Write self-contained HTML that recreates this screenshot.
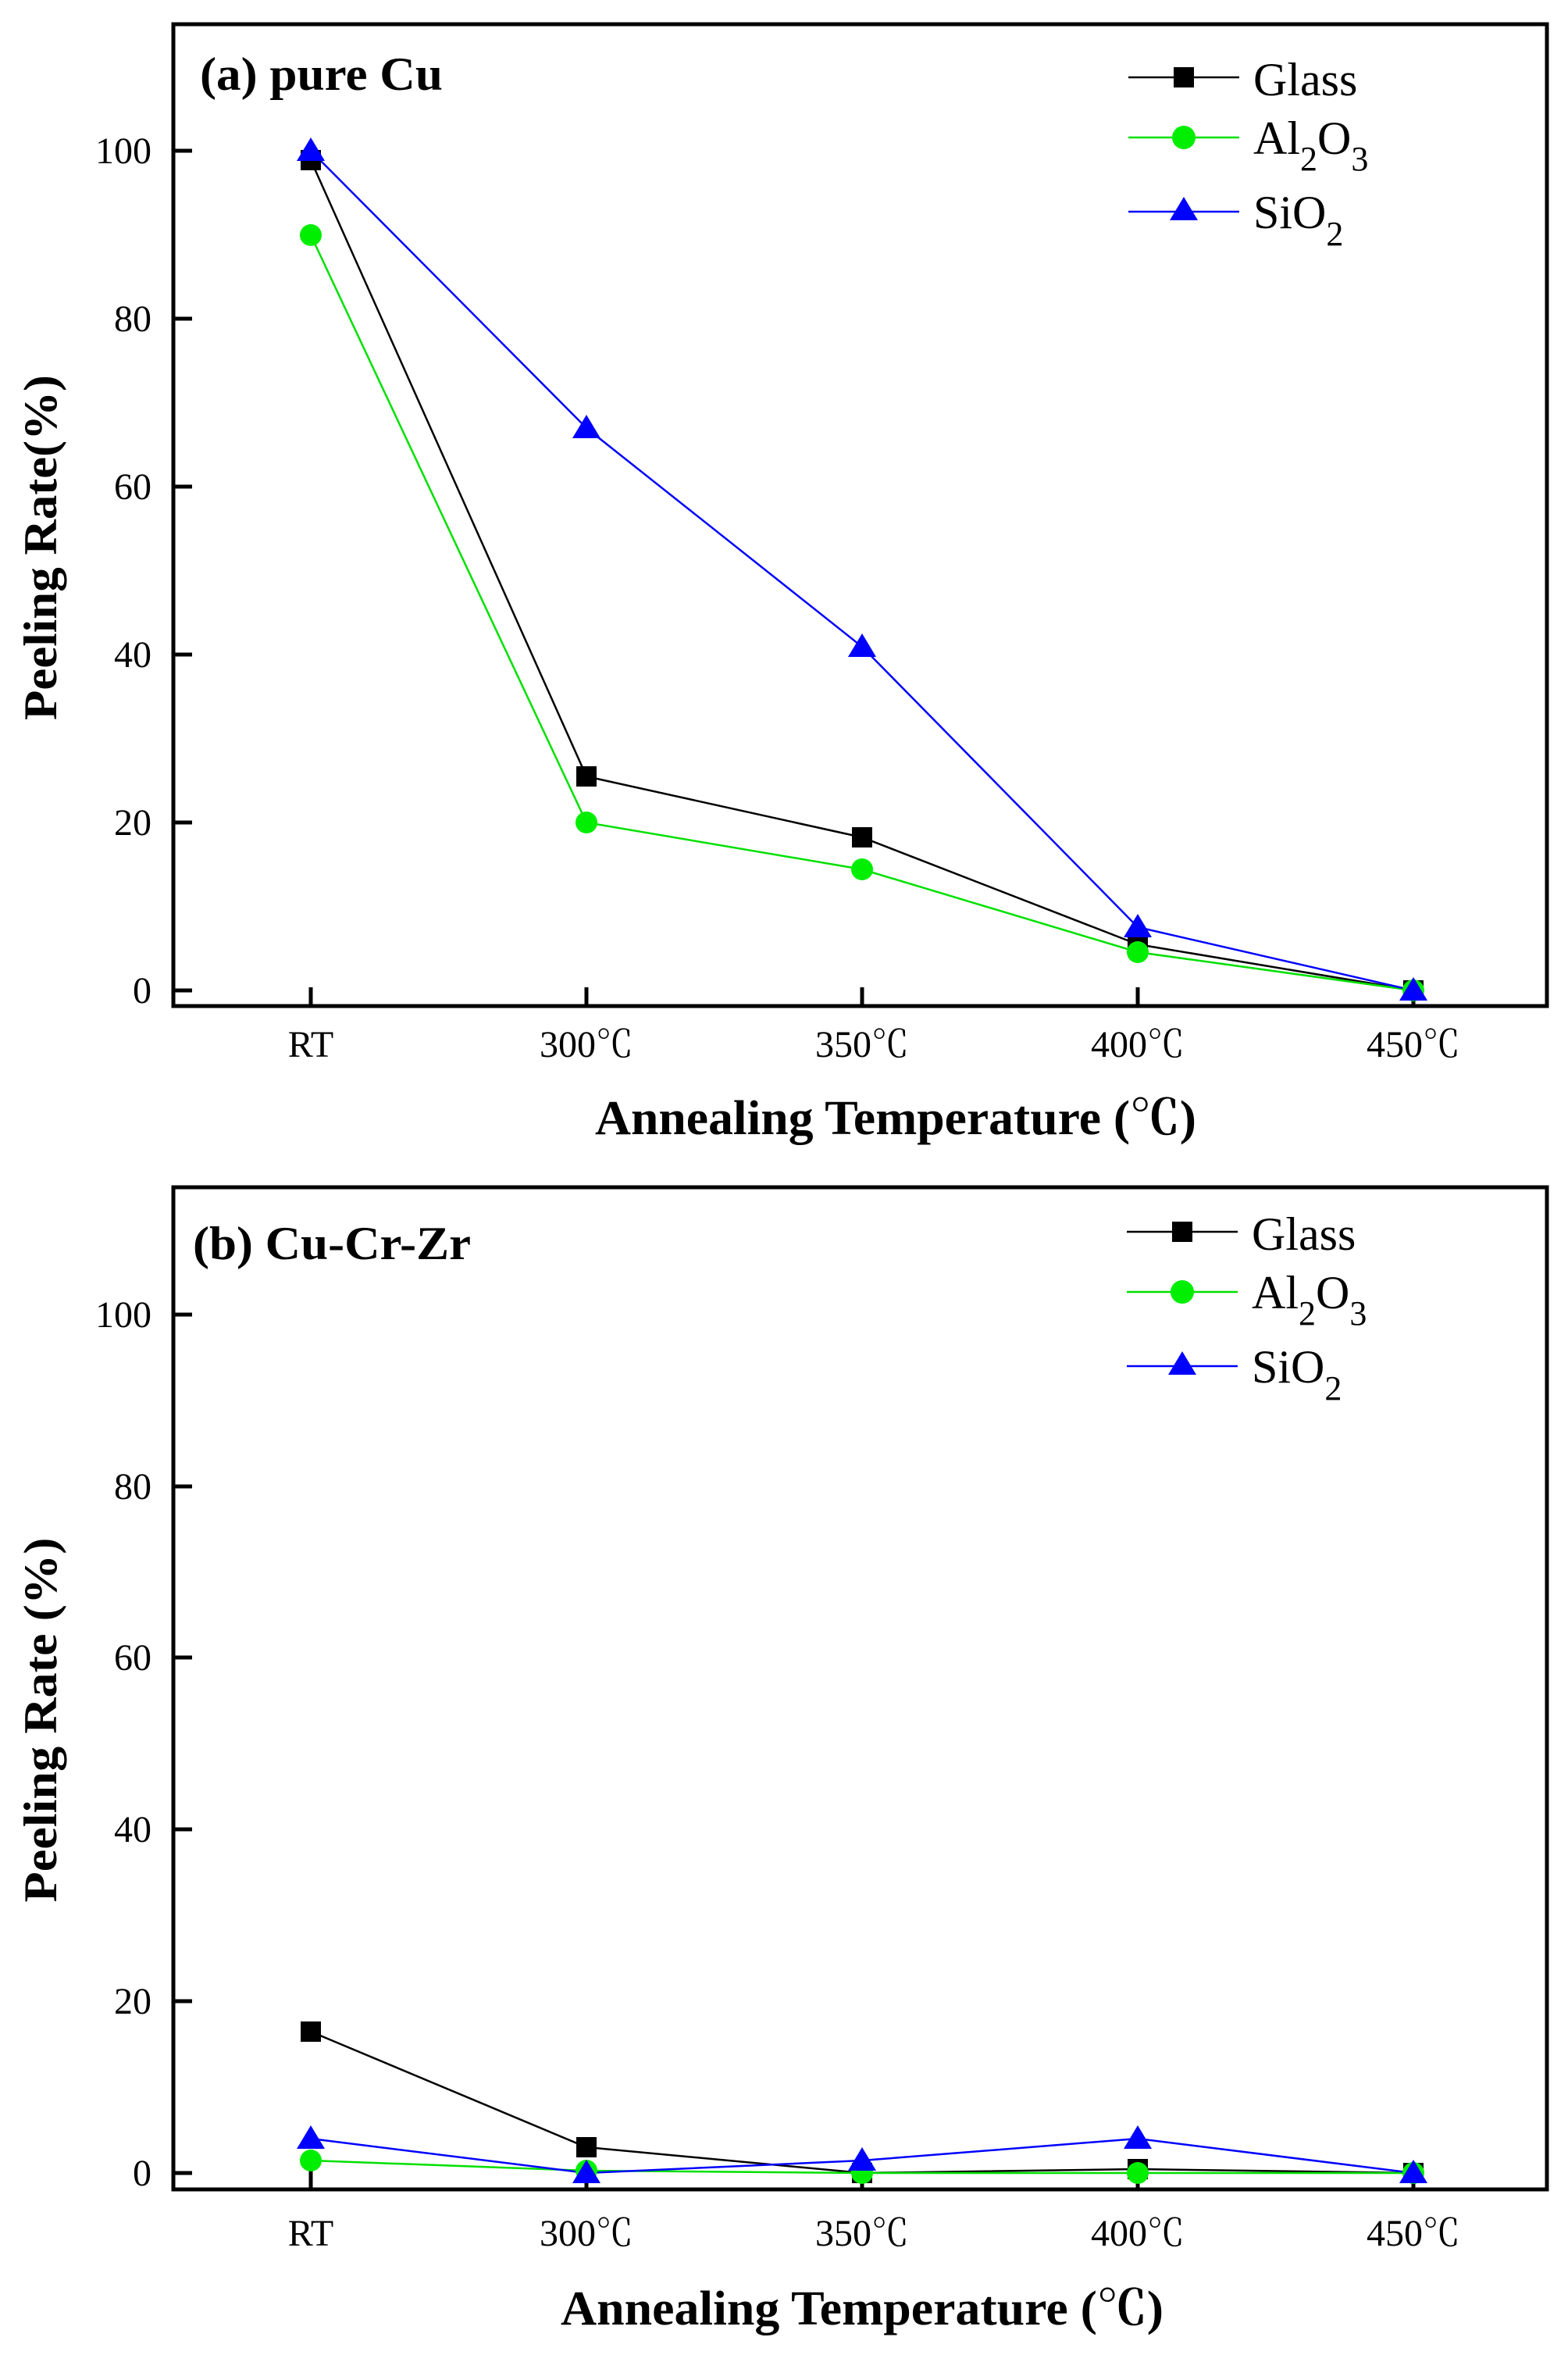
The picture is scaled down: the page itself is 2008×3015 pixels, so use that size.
<!DOCTYPE html>
<html><head><meta charset="utf-8"><style>html,body{margin:0;padding:0;background:#fff}svg{display:block}</style></head>
<body>
<svg width="2008" height="3015" viewBox="0 0 2008 3015" xmlns="http://www.w3.org/2000/svg" font-family="'Liberation Serif', 'Noto Serif CJK SC', serif">
<rect width="2008" height="3015" fill="#fff"/>
<!-- Panel A -->
<g>
<rect x="222" y="31" width="1759" height="1257" fill="none" stroke="#000" stroke-width="5"/>
<g stroke="#000" stroke-width="5">
<line x1="222" y1="1268" x2="246" y2="1268"/><line x1="222" y1="1053" x2="246" y2="1053"/><line x1="222" y1="838" x2="246" y2="838"/><line x1="222" y1="623" x2="246" y2="623"/><line x1="222" y1="408" x2="246" y2="408"/><line x1="222" y1="193" x2="246" y2="193"/>
<line x1="398" y1="1288" x2="398" y2="1264"/><line x1="751" y1="1288" x2="751" y2="1264"/><line x1="1104" y1="1288" x2="1104" y2="1264"/><line x1="1457" y1="1288" x2="1457" y2="1264"/><line x1="1810" y1="1288" x2="1810" y2="1264"/>
</g>
<g font-size="48" text-anchor="end">
<text x="194" y="1284">0</text><text x="194" y="1069">20</text><text x="194" y="854">40</text><text x="194" y="639">60</text><text x="194" y="424">80</text><text x="194" y="209">100</text>
</g>
<g font-size="48" text-anchor="middle">
<text x="398" y="1353">RT</text><text x="751" y="1353">300℃</text><text x="1104" y="1353">350℃</text><text x="1457" y="1353">400℃</text><text x="1810" y="1353">450℃</text>
</g>
<text x="762" y="1452" font-size="62" font-weight="bold" textLength="770" lengthAdjust="spacingAndGlyphs">Annealing Temperature (℃)</text>
<text transform="translate(72,701) rotate(-90)" font-size="60" font-weight="bold" text-anchor="middle" textLength="442" lengthAdjust="spacingAndGlyphs">Peeling Rate(%)</text>
<text x="256" y="115" font-size="60" font-weight="bold" textLength="311" lengthAdjust="spacingAndGlyphs">(a) pure Cu</text>
<polyline fill="none" stroke="#000" stroke-width="2.5" points="398,205 751,994 1104,1072 1457,1209 1810,1268"/>
<polyline fill="none" stroke="#00e000" stroke-width="2.5" points="398,301 751,1053 1104,1113 1457,1219 1810,1268"/>
<polyline fill="none" stroke="#0000ff" stroke-width="2.5" points="398,193 751,548 1104,828 1457,1187 1810,1268"/>
<g fill="#000"><rect x="385" y="192" width="26" height="26"/><rect x="738" y="981" width="26" height="26"/><rect x="1091" y="1059" width="26" height="26"/><rect x="1444" y="1196" width="26" height="26"/><rect x="1797" y="1255" width="26" height="26"/></g>
<g fill="#00ee00"><circle cx="398" cy="301" r="14"/><circle cx="751" cy="1053" r="14"/><circle cx="1104" cy="1113" r="14"/><circle cx="1457" cy="1219" r="14"/><circle cx="1810" cy="1268" r="14"/></g>
<g fill="#0000ff"><polygon points="398,176 380,206 416,206"/><polygon points="751,531 733,561 769,561"/><polygon points="1104,811 1086,841 1122,841"/><polygon points="1457,1170 1439,1200 1475,1200"/><polygon points="1810,1251 1792,1281 1828,1281"/></g>
<line x1="1445" y1="99" x2="1587" y2="99" stroke="#000" stroke-width="2.5"/><rect x="1503" y="86" width="26" height="26" fill="#000"/>
<line x1="1445" y1="176" x2="1587" y2="176" stroke="#00e000" stroke-width="2.5"/><circle cx="1516" cy="176" r="15" fill="#00ee00"/>
<line x1="1445" y1="271" x2="1587" y2="271" stroke="#0000ff" stroke-width="2.5"/><polygon points="1516,252 1498,282 1534,282" fill="#0000ff"/>
<g font-size="60"><text x="1605" y="122">Glass</text>
<text x="1605" y="197">Al<tspan font-size="44" dy="21">2</tspan><tspan dy="-21">O</tspan><tspan font-size="44" dy="21">3</tspan></text>
<text x="1605" y="292">SiO<tspan font-size="44" dy="22">2</tspan></text></g>
</g>
<!-- Panel B -->
<g>
<rect x="222" y="1520" width="1759" height="1283" fill="none" stroke="#000" stroke-width="5"/>
<g stroke="#000" stroke-width="5">
<line x1="222" y1="2782" x2="246" y2="2782"/><line x1="222" y1="2562" x2="246" y2="2562"/><line x1="222" y1="2342" x2="246" y2="2342"/><line x1="222" y1="2122" x2="246" y2="2122"/><line x1="222" y1="1903" x2="246" y2="1903"/><line x1="222" y1="1683" x2="246" y2="1683"/>
<line x1="398" y1="2803" x2="398" y2="2779"/><line x1="751" y1="2803" x2="751" y2="2779"/><line x1="1104" y1="2803" x2="1104" y2="2779"/><line x1="1457" y1="2803" x2="1457" y2="2779"/><line x1="1810" y1="2803" x2="1810" y2="2779"/>
</g>
<g font-size="48" text-anchor="end">
<text x="194" y="2798">0</text><text x="194" y="2578">20</text><text x="194" y="2358">40</text><text x="194" y="2138">60</text><text x="194" y="1919">80</text><text x="194" y="1699">100</text>
</g>
<g font-size="48" text-anchor="middle">
<text x="398" y="2875">RT</text><text x="751" y="2875">300℃</text><text x="1104" y="2875">350℃</text><text x="1457" y="2875">400℃</text><text x="1810" y="2875">450℃</text>
</g>
<text x="718" y="2976" font-size="62" font-weight="bold" textLength="772" lengthAdjust="spacingAndGlyphs">Annealing Temperature (℃)</text>
<text transform="translate(72,2202) rotate(-90)" font-size="60" font-weight="bold" text-anchor="middle" textLength="467" lengthAdjust="spacingAndGlyphs">Peeling Rate (%)</text>
<text x="247" y="1612" font-size="60" font-weight="bold" textLength="356" lengthAdjust="spacingAndGlyphs">(b) Cu-Cr-Zr</text>
<polyline fill="none" stroke="#000" stroke-width="2.5" points="398,2601 751,2749 1104,2782 1457,2777 1810,2782"/>
<polyline fill="none" stroke="#00e000" stroke-width="2.5" points="398,2766 751,2779 1104,2782 1457,2782 1810,2782"/>
<polyline fill="none" stroke="#0000ff" stroke-width="2.5" points="398,2738 751,2782 1104,2766 1457,2738 1810,2782"/>
<g fill="#000"><rect x="385" y="2588" width="26" height="26"/><rect x="738" y="2736" width="26" height="26"/><rect x="1091" y="2769" width="26" height="26"/><rect x="1444" y="2764" width="26" height="26"/><rect x="1797" y="2769" width="26" height="26"/></g>
<g fill="#00ee00"><circle cx="398" cy="2766" r="14"/><circle cx="751" cy="2779" r="14"/><circle cx="1104" cy="2782" r="14"/><circle cx="1457" cy="2782" r="14"/><circle cx="1810" cy="2782" r="14"/></g>
<g fill="#0000ff"><polygon points="398,2721 380,2751 416,2751"/><polygon points="751,2765 733,2795 769,2795"/><polygon points="1104,2749 1086,2779 1122,2779"/><polygon points="1457,2721 1439,2751 1475,2751"/><polygon points="1810,2765 1792,2795 1828,2795"/></g>
<line x1="1443" y1="1577" x2="1585" y2="1577" stroke="#000" stroke-width="2.5"/><rect x="1501" y="1564" width="26" height="26" fill="#000"/>
<line x1="1443" y1="1654" x2="1585" y2="1654" stroke="#00e000" stroke-width="2.5"/><circle cx="1514" cy="1654" r="15" fill="#00ee00"/>
<line x1="1443" y1="1749" x2="1585" y2="1749" stroke="#0000ff" stroke-width="2.5"/><polygon points="1514,1730 1496,1760 1532,1760" fill="#0000ff"/>
<g font-size="60"><text x="1603" y="1600">Glass</text>
<text x="1603" y="1675">Al<tspan font-size="44" dy="21">2</tspan><tspan dy="-21">O</tspan><tspan font-size="44" dy="21">3</tspan></text>
<text x="1603" y="1770">SiO<tspan font-size="44" dy="22">2</tspan></text></g>
</g>
</svg>
</body></html>
